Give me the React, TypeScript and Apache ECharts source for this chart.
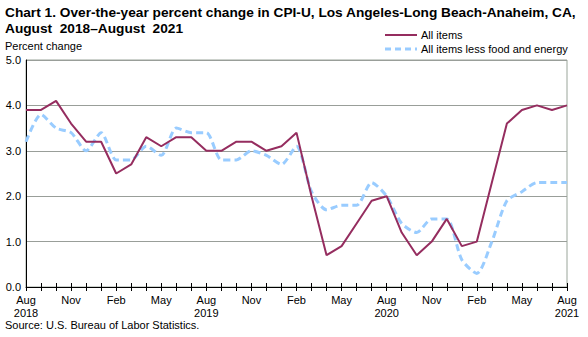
import React, { useEffect, useRef } from "react";
import * as echarts from "echarts";

const months = [
  "Aug 2018", "Sep 2018", "Oct 2018", "Nov 2018", "Dec 2018",
  "Jan 2019", "Feb 2019", "Mar 2019", "Apr 2019", "May 2019", "Jun 2019", "Jul 2019",
  "Aug 2019", "Sep 2019", "Oct 2019", "Nov 2019", "Dec 2019",
  "Jan 2020", "Feb 2020", "Mar 2020", "Apr 2020", "May 2020", "Jun 2020", "Jul 2020",
  "Aug 2020", "Sep 2020", "Oct 2020", "Nov 2020", "Dec 2020",
  "Jan 2021", "Feb 2021", "Mar 2021", "Apr 2021", "May 2021", "Jun 2021", "Jul 2021",
  "Aug 2021",
];

const allItems = [
  3.9, 3.9, 4.1, 3.6, 3.2,
  3.2, 2.5, 2.7, 3.3, 3.1, 3.3, 3.3,
  3.0, 3.0, 3.2, 3.2, 3.0,
  3.1, 3.4, 2.0, 0.7, 0.9, 1.4, 1.9,
  2.0, 1.2, 0.7, 1.0, 1.5,
  0.9, 1.0, 2.3, 3.6, 3.9, 4.0, 3.9,
  4.0,
];

const lessFoodEnergy = [
  3.2, 3.8, 3.5, 3.4, 3.0,
  3.4, 2.8, 2.8, 3.1, 2.9, 3.5, 3.4,
  3.4, 2.8, 2.8, 3.0, 2.9,
  2.7, 3.1, 2.1, 1.7, 1.8, 1.8, 2.3,
  2.0, 1.4, 1.2, 1.5, 1.5,
  0.6, 0.3, 1.0, 1.9, 2.1, 2.3, 2.3,
  2.3,
];

const seriesNames = ["All items", "All items less food and energy"];
const yTicks = [0, 1, 2, 3, 4, 5];

const FONT = "'Liberation Sans', Arial, sans-serif";
const MAROON = "#952d5f";
const BLUE = "#99ccff";

export default function App() {
  const ref = useRef<HTMLDivElement>(null);
  useEffect(() => {
    if (!ref.current) return;
    const chart = echarts.init(ref.current, undefined, { renderer: "svg" });
    chart.setOption({
      animation: false,
      backgroundColor: "#ffffff",
      textStyle: { fontFamily: FONT },
      title: {
        text: "Chart 1. Over-the-year percent change in CPI-U, Los Angeles-Long Beach-Anaheim, CA,\nAugust  2018\u2013August  2021",
        left: 5,
        top: 4,
        padding: 0,
        textStyle: { fontFamily: FONT, fontSize: 13.7, fontWeight: "bold", color: "#000", lineHeight: 16.5 },
      },
      grid: {
        left: 26,
        right: 21,
        top: 60,
        bottom: 50,
        show: true,
        borderColor: "#9aa59a",
        borderWidth: 1,
      },
      xAxis: [
        {
          type: "category",
          data: months,
          boundaryGap: false,
          axisLine: { show: true, lineStyle: { color: "#000", width: 1 } },
          axisTick: { show: true, interval: 0, length: 4, lineStyle: { color: "#000" } },
          axisLabel: {
            interval: 2,
            color: "#000",
            fontSize: 11,
            lineHeight: 13,
            margin: 6,
            fontFamily: FONT,
            formatter: (v: string) => {
              const [m, y] = v.split(" ");
              return m === "Aug" ? m + "\n" + y : m;
            },
          },
          splitLine: { show: false },
        },
        {
          type: "category",
          data: months,
          boundaryGap: false,
          position: "bottom",
          axisLine: { show: false },
          axisTick: { show: true, inside: true, interval: 0, length: 4, lineStyle: { color: "#000" } },
          axisLabel: { show: false },
          splitLine: { show: false },
        },
      ],
      yAxis: {
        type: "value",
        min: yTicks[0],
        max: yTicks[yTicks.length - 1],
        interval: 1,
        axisLine: { show: true, lineStyle: { color: "#000", width: 1 } },
        axisTick: { show: false },
        axisLabel: {
          color: "#000",
          fontSize: 11,
          margin: 5,
          fontFamily: FONT,
          formatter: (v: number) => v.toFixed(1),
        },
        splitLine: { show: true, lineStyle: { color: "#999e99", width: 1 } },
      },
      series: [
        {
          name: seriesNames[0],
          type: "line",
          data: allItems,
          symbol: "none",
          lineStyle: { color: MAROON, width: 2 },
          itemStyle: { color: MAROON },
          z: 3,
        },
        {
          name: seriesNames[1],
          type: "line",
          data: lessFoodEnergy,
          symbol: "none",
          smooth: 0.25,
          lineStyle: { color: BLUE, width: 3, type: [7, 4] },
          itemStyle: { color: BLUE },
          z: 2,
        },
      ],
      graphic: [
        {
          type: "text",
          left: 5,
          top: 40,
          style: { text: "Percent change", fontSize: 11, fontFamily: FONT, fill: "#000" },
        },
        {
          type: "text",
          left: 5,
          top: 319,
          style: { text: "Source: U.S. Bureau of Labor Statistics.", fontSize: 11, fontFamily: FONT, fill: "#000" },
        },
        {
          type: "line",
          shape: { x1: 385, y1: 35, x2: 417, y2: 35 },
          style: { stroke: MAROON, lineWidth: 2 },
        },
        {
          type: "text",
          x: 421,
          y: 35,
          style: { text: seriesNames[0], fontSize: 11, fontFamily: FONT, fill: "#000", verticalAlign: "middle" },
        },
        {
          type: "line",
          shape: { x1: 385, y1: 49, x2: 417, y2: 49 },
          style: { stroke: BLUE, lineWidth: 3, lineDash: [6, 4] },
        },
        {
          type: "text",
          x: 421,
          y: 49,
          style: { text: seriesNames[1], fontSize: 11, fontFamily: FONT, fill: "#000", verticalAlign: "middle" },
        },
      ],
    });
    return () => chart.dispose();
  }, []);
  return <div ref={ref} style={{ width: 588, height: 337, position: "absolute", left: 0, top: 0 }} />;
}
